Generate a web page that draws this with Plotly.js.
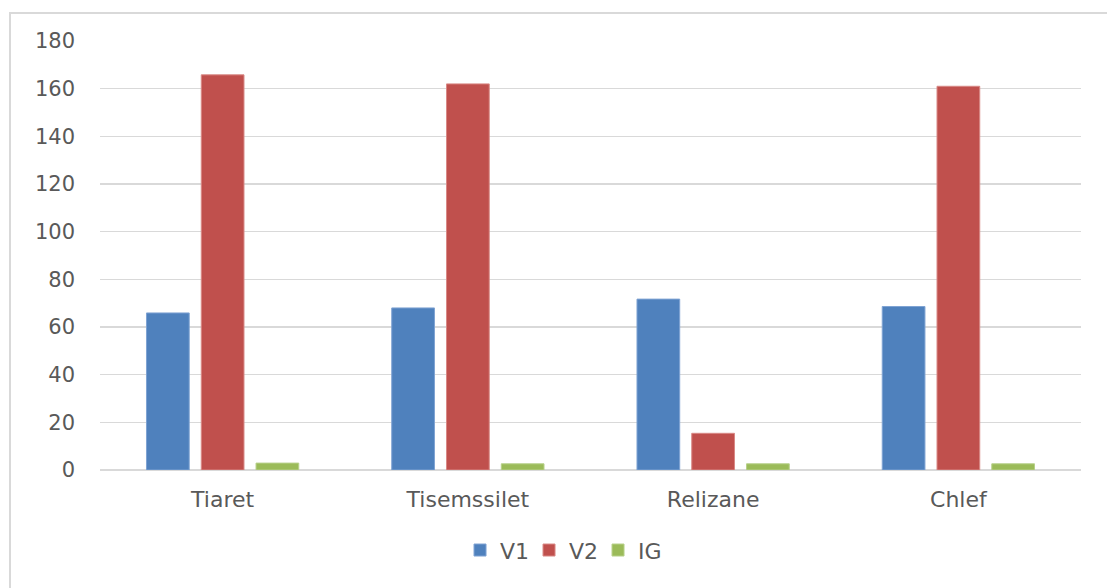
<!DOCTYPE html>
<html>
<head>
<meta charset="utf-8">
<script src="https://cdn.plot.ly/plotly-3.0.1.min.js"></script>
<style>
  html, body { margin: 0; padding: 0; width: 1107px; height: 588px; overflow: hidden; background: #ffffff; }
  #frame { position: absolute; left: 9px; top: 12px; width: 1110px; height: 590px;
           border-left: 2px solid #d9d9d9; border-top: 2px solid #d9d9d9; box-sizing: border-box; }
  #chart { position: absolute; left: 0; top: 0; width: 1107px; height: 588px; }
</style>
</head>
<body>
<div id="frame"></div>
<div id="chart"></div>
<script>
// Regions (wilayas)
const categories = ["Tiaret", "Tisemssilet", "Relizane", "Chlef"];

// Series values per region
const v1 = [65.9, 68.0, 71.7, 68.6];
const v2 = [165.8, 162.0, 15.4, 161.0];
const ig = [2.9, 2.6, 2.6, 2.6];

// Value axis ticks
const yTicks = [0, 20, 40, 60, 80, 100, 120, 140, 160, 180];

const textColor = "#595959";
const fontFamily = "DejaVu Sans, Liberation Sans, sans-serif";

function barTrace(name, values, fill, edge) {
  return {
    type: "bar",
    name: name,
    x: categories,
    y: values,
    marker: { color: fill, line: { color: edge, width: 1 } },
    hoverinfo: "x+y+name"
  };
}

const data = [
  barTrace("V1", v1, "#4f81bd", "#7fa3d3"),
  barTrace("V2", v2, "#c0504d", "#d98986"),
  barTrace("IG", ig, "#9bbb59", "#b7d08a")
];

const layout = {
  width: 1107,
  height: 588,
  margin: { l: 100, r: 26, t: 41, b: 117.5, pad: 0 },
  paper_bgcolor: "rgba(0,0,0,0)",
  plot_bgcolor: "rgba(0,0,0,0)",
  barmode: "group",
  bargap: 0.33,
  bargroupgap: 0.22,
  font: { family: fontFamily, size: 22, color: textColor },
  xaxis: {
    type: "category",
    showgrid: false,
    showline: false,
    zeroline: false,
    ticks: "",
    ticklabelstandoff: 14,
    tickfont: { family: fontFamily, size: 22, color: textColor }
  },
  yaxis: {
    range: [0, 180],
    tickvals: yTicks,
    ticktext: yTicks.map(String),
    showgrid: true,
    gridcolor: "#d9d9d9",
    gridwidth: 1.6,
    zeroline: true,
    zerolinecolor: "#d9d9d9",
    zerolinewidth: 1.6,
    showline: false,
    ticks: "",
    ticklabelstandoff: 24,
    tickfont: { family: fontFamily, size: 21, color: textColor }
  },
  showlegend: true,
  legend: {
    orientation: "h",
    x: 0.367,
    xanchor: "left",
    y: -0.187,
    yanchor: "middle",
    entrywidth: 24,
    entrywidthmode: "pixels",
    font: { family: fontFamily, size: 22, color: textColor },
    bgcolor: "rgba(0,0,0,0)",
    traceorder: "normal"
  }
};

Plotly.newPlot("chart", data, layout, { displayModeBar: false, staticPlot: true });
</script>
</body>
</html>
